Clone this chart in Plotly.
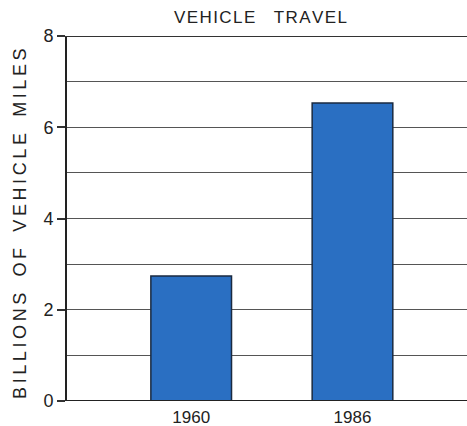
import plotly.graph_objects as go

categories = ["1960", "1986"]
values = [2.74, 6.53]
y_ticks = [0, 2, 4, 6, 8]
title_text = "VEHICLE TRAVEL"
y_title = "BILLIONS OF VEHICLE MILES"

FONT = "Liberation Sans, sans-serif"

def spaced(s, sep, word):
    words = s.split(" ")
    return word.join(sep.join(list(w)) for w in words)

fig = go.Figure()
fig.add_trace(go.Bar(
    x=[0, 1], y=values, width=0.5,
    marker=dict(color="#2a6fc2", line=dict(color="#1a2a40", width=1.5)),
))

fig.update_layout(
    width=467, height=426,
    margin=dict(l=67, r=0, t=36, b=25),
    paper_bgcolor="white", plot_bgcolor="white",
    showlegend=False,
    font=dict(family=FONT, color="#222"),
    xaxis=dict(
        range=[-0.77, 1.71], tickmode="array", tickvals=[0, 1], ticktext=categories,
        showgrid=False, zeroline=False, showline=False, ticks="",
        tickfont=dict(size=17, color="#222"), ticklabelstandoff=4,
    ),
    yaxis=dict(
        range=[0, 8], tickmode="array", tickvals=y_ticks,
        showgrid=True, gridcolor="#555", gridwidth=1,
        zeroline=False, showline=True, linecolor="#222", linewidth=2,
        ticks="outside", ticklen=8, tickcolor="#333", tickwidth=1.5,
        tickfont=dict(size=18, color="#222"),
        minor=dict(dtick=1, showgrid=True, gridcolor="#555", gridwidth=1, ticks=""),
    ),
    shapes=[dict(type="line", xref="paper", yref="y", x0=0, x1=1, y0=0, y1=0,
                 line=dict(color="#222", width=2)),
            dict(type="line", xref="paper", yref="y", x0=-0.02, x1=1, y0=8, y1=8,
                 line=dict(color="#333", width=2))],
    annotations=[
        dict(text=spaced(title_text, "\u200a", "\u2003\u200a"), xref="paper", yref="paper",
             x=0.4825, y=1 + 19/365,
             showarrow=False, font=dict(size=17, color="#222"), xanchor="center", yanchor="middle"),
        dict(text=spaced(y_title, "\u2009", "\u2002\u2009\u2009"), xref="paper", yref="paper",
             x=-47/400, y=0.485,
             showarrow=False, textangle=-90, font=dict(size=18, color="#222"),
             xanchor="center", yanchor="middle"),
    ],
)
fig.write_html("out.html", config={"displayModeBar": False},
               post_script="document.body.style.margin='0';")
